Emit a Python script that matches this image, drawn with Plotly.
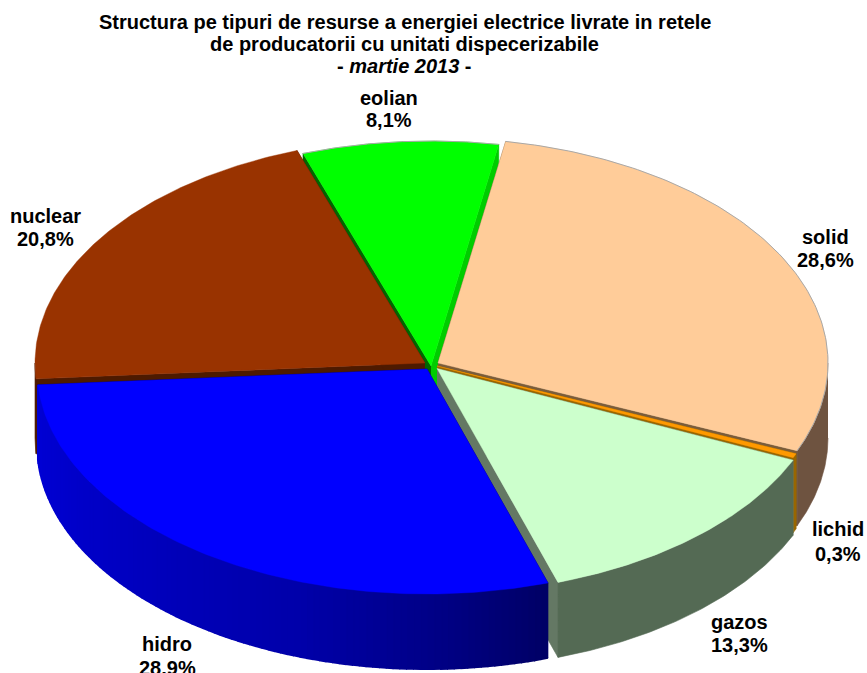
import numpy as np
import plotly.graph_objects as go

# ---- data ----
categories = ["solid", "lichid", "gazos", "hidro", "nuclear", "eolian"]
values = [28.6, 0.3, 13.3, 28.9, 20.8, 8.1]
title_lines = ["Structura pe tipuri de resurse a energiei electrice livrate in retele",
               "de producatorii cu unitati dispecerizabile",
               "- <i>martie 2013</i> -"]

# ---- styles ----
top_colors = ["#FFCC99", "#FF9900", "#CCFFCC", "#0000FF", "#993300", "#00FF00"]
rim_colors = ["#6E5340", "#996600", "#546A54", None, "#4D1A00", "#00CC00"]
cut_in_colors = ["#7A5C3A", "#996600", "#647864", "#000066", "#4D1A00", "#006600"]   # wall at slice start
cut_out_colors = ["#7A5C3A", "#996600", "#647864", "#000066", "#4D1A00", "#00CC00"]  # wall at slice end
hidro_angles = [162, 175, 199, 240, 270]
hidro_blue = [0x66, 0x80, 0xAA, 0xC8, 0xD8]

# ---- projection ----
START = 10.0
RX, RY, DEPTH = 390.0, 225.0, 75.0
centres = {"solid": (438, 363), "lichid": (437, 366), "gazos": (437, 368.5),
           "hidro": (427, 369), "nuclear": (425, 363), "eolian": (431, 366)}
draw_order = ["eolian", "nuclear", "solid", "lichid", "gazos", "hidro"]
label_pos = {"eolian": (389, 98, 120), "nuclear": (45, 216, 239), "solid": (825, 237, 260),
             "lichid": (838, 529, 554), "gazos": (739, 622, 645), "hidro": (167, 644, 668)}
title_y = [22, 44, 66]
TITLE_X = 404.5


def rim(c, a):
    t = np.radians(a)
    return c[0] + RX * np.sin(t), c[1] - RY * np.cos(t)


def poly(xs, ys, color, width=0.6):
    return go.Scatter(x=list(xs), y=list(ys), mode="lines", fill="toself", fillcolor=color,
                      line=dict(color=color, width=width), hoverinfo="skip", showlegend=False)


edges = START + np.concatenate([[0], np.cumsum(values)]) * 3.6
fig = go.Figure()

for name in draw_order:
    i = categories.index(name)
    a0, a1 = edges[i], edges[i + 1]
    c = centres[name]
    # radial cut walls
    for a, col in ((a0, cut_in_colors[i]), (a1, cut_out_colors[i])):
        x, y = rim(c, a)
        fig.add_trace(poly([c[0], x, x, c[0]], [c[1], y, y + DEPTH, c[1] + DEPTH], col))
    # outer wall, only where the rim faces the viewer
    lo, hi = max(a0, 90), min(a1, 270)
    if hi > lo:
        if name == "hidro":
            st = np.linspace(lo, hi, int(hi - lo) + 1)
            for s0, s1 in zip(st[:-1], st[1:]):
                ang = np.linspace(s0, s1, 3)
                x, y = rim(c, ang)
                b = int(np.interp((s0 + s1) / 2, hidro_angles, hidro_blue))
                fig.add_trace(poly(np.r_[x, x[::-1]], np.r_[y, y[::-1] + DEPTH], f"rgb(0,0,{b})", 2))
        else:
            ang = np.linspace(lo, hi, 80)
            x, y = rim(c, ang)
            fig.add_trace(poly(np.r_[x, x[::-1]], np.r_[y, y[::-1] + DEPTH], rim_colors[i]))
    # top face
    ang = np.linspace(a0, a1, 120)
    x, y = rim(c, ang)
    fig.add_trace(poly(np.r_[c[0], x, c[0]], np.r_[c[1], y, c[1]], top_colors[i], 0.4))
    # thin grey rim on the back slices
    if name in ("eolian", "solid"):
        fig.add_trace(go.Scatter(x=x, y=y, mode="lines", line=dict(color="#A8A8A8", width=1),
                                 hoverinfo="skip", showlegend=False))

for name, v in zip(categories, values):
    px, y1, y2 = label_pos[name]
    for txt, py in ((name, y1), (f"{str(v).replace('.', ',')}%", y2)):
        fig.add_annotation(x=px, y=py, xref="x", yref="y", text=f"<b>{txt}</b>",
                           showarrow=False, align="center", xanchor="center", yanchor="middle",
                           font=dict(family="Liberation Sans", size=20, color="black"))

for line, py in zip(title_lines, title_y):
    fig.add_annotation(x=TITLE_X, y=py, xref="x", yref="y", text=f"<b>{line}</b>",
                       showarrow=False, align="center", xanchor="center", yanchor="middle",
                       font=dict(family="Liberation Sans", size=20, color="black"))

fig.update_layout(
    width=867, height=673, autosize=False,
    margin=dict(l=0, r=0, t=0, b=0),
    paper_bgcolor="white", plot_bgcolor="white", showlegend=False,
    xaxis=dict(range=[0, 867], visible=False, fixedrange=True),
    yaxis=dict(range=[673, 0], visible=False, fixedrange=True),
)
fig.write_html("out.html", config={"displayModeBar": False},
               post_script="document.body.style.margin='0';document.body.style.overflow='hidden';")
